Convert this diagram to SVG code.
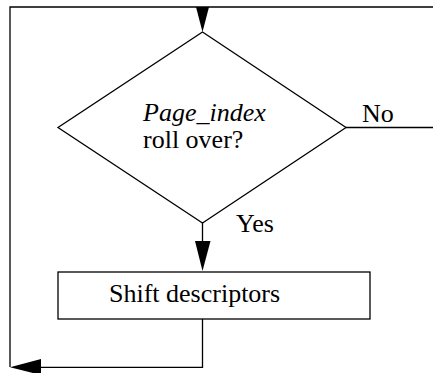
<svg xmlns="http://www.w3.org/2000/svg" width="433" height="373" viewBox="0 0 433 373">
<style>
.ln{fill:none;stroke:#000;stroke-width:1.3}
.sh{fill:#fff;stroke:#000;stroke-width:1.3}
.t{font-family:'Liberation Serif','Times New Roman',serif;font-size:26px;fill:#000}
.ah{fill:#000;stroke:none}
</style>
<rect width="433" height="373" fill="#fff"/>
<g id="connectors">
<polyline class="ln" points="433,7 10,7 10,367"/>
<polygon class="ah" points="196,7 209,7 202.5,32"/>
<line class="ln" x1="346" y1="127.5" x2="433" y2="127.5"/>
<line class="ln" x1="202.5" y1="223" x2="202.5" y2="245"/>
<polygon class="ah" points="195,241 210.5,241 202.5,271"/>
<polyline class="ln" points="202.5,319 202.5,367.3 38,367.3"/>
<polygon class="ah" points="10,367.3 41,359 41,375"/>
<text class="t" x="362" y="121.5">No</text>
<text class="t" x="236" y="232">Yes</text>
</g>
<g id="decision">
<polygon class="sh" points="202.5,32 346,127.5 202.5,223 58,127.5"/>
<text class="t" x="143" y="121" font-style="italic">Page_index</text>
<text class="t" x="143" y="148">roll over?</text>
</g>
<g id="shift">
<rect class="sh" x="58" y="272" width="312" height="47"/>
<text class="t" x="109" y="302">Shift descriptors</text>
</g>
</svg>
